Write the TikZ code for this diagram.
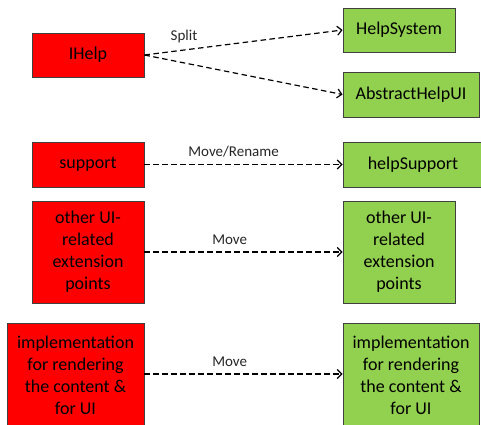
\documentclass[tikz,border=0pt]{standalone}
\usepackage{fontspec}
\setmainfont{Carlito}
\usetikzlibrary{arrows.meta}

\definecolor{oldred}{rgb}{1,0,0}
\definecolor{newgreen}{rgb}{0.57,0.82,0.31}
\definecolor{boxline}{rgb}{0.25,0.25,0.25}
\definecolor{labelgray}{rgb}{0.15,0.15,0.15}

\tikzset{
  plugbox/.style={draw=boxline, line width=0.9pt, align=center, inner sep=0pt,
    font=\fontsize{18}{22}\selectfont},
  oldbox/.style={plugbox, fill=oldred},
  newbox/.style={plugbox, fill=newgreen},
  move/.style={dashed, dash pattern=on 5.5pt off 3.5pt, line width=1.2pt,
    -{Straight Barb[length=4.5pt,width=9pt]}},
  movelabel/.style={text=labelgray, font=\fontsize{15}{17}\selectfont}
}

\begin{document}
\begin{tikzpicture}[x=1pt, y=-1pt]
    \useasboundingbox (0,0) rectangle (481,424);
    % old locations
    \node[oldbox, minimum width=112pt, minimum height=44pt] (ihelp) at (88,55) {IHelp};
    \node[oldbox, minimum width=112pt, minimum height=45pt] (support) at (88,164.5) {support};
    \node[oldbox, minimum width=112pt, minimum height=102pt] (otherold) at (88,252) {other UI-\\related\\extension\\points};
    \node[oldbox, minimum width=137pt, minimum height=104pt] (implold) at (75.5,375) {implementation\\for rendering\\the content \&\\for UI};
    % new locations
    \node[newbox, minimum width=112pt, minimum height=44pt] (helpsystem) at (399,30) {HelpSystem};
    \node[newbox, minimum width=136pt, minimum height=45pt] (abstractui) at (411,94.5) {AbstractHelpUI};
    \node[newbox, minimum width=140pt, minimum height=45pt] (helpsupport) at (413,164.5) {helpSupport};
    \node[newbox, minimum width=112pt, minimum height=102pt] (othernew) at (399,252) {other UI-\\related\\extension\\points};
    \node[newbox, minimum width=136pt, minimum height=104pt] (implnew) at (411,375) {implementation\\for rendering\\the content \&\\for UI};
    % moves
    \draw[move] (ihelp.east) -- node[movelabel, pos=0.2, above=3pt] {Split} (helpsystem.west);
    \draw[move] (ihelp.east) -- (abstractui.west);
    \draw[move] (support.east) -- node[movelabel, pos=0.45, above=3pt] {Move/Rename} (helpsupport.west);
    \draw[move] (otherold.east) -- node[movelabel, pos=0.43, above=3pt] {Move} (othernew.west);
    \draw[move] (implold.east |- 0,374) -- node[movelabel, pos=0.43, above=3pt] {Move} (implnew.west |- 0,374);
\end{tikzpicture}
\end{document}
